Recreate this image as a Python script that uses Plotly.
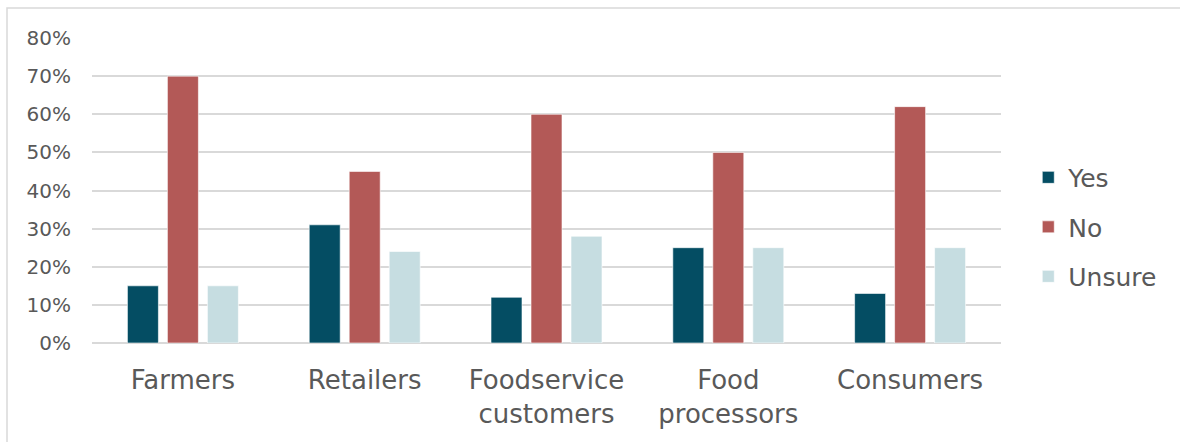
import plotly.graph_objects as go

categories = ["Farmers", "Retailers", "Foodservice<br>customers", "Food<br>processors", "Consumers"]
yes_vals = [0.15, 0.31, 0.12, 0.25, 0.13]
no_vals = [0.70, 0.45, 0.60, 0.50, 0.62]
unsure_vals = [0.15, 0.24, 0.28, 0.25, 0.25]
tick_vals = [0, 0.1, 0.2, 0.3, 0.4, 0.5, 0.6, 0.7, 0.8]
tick_text = ["0%", "10%", "20%", "30%", "40%", "50%", "60%", "70%", "80%"]

W, H = 1180, 442
L, R, T, B = 92, 179, 38, 99
FONT = "'DejaVu Sans', sans-serif"
TEXT = "#595959"

series = [("Yes", yes_vals, "#044d63"), ("No", no_vals, "#b35957"), ("Unsure", unsure_vals, "#c6dde1")]

fig = go.Figure()
for name, vals, col in series:
    fig.add_trace(go.Bar(
        x=categories, y=vals, name=name, legendgroup=name,
        marker=dict(color=col, line=dict(color="rgba(255,255,255,0.6)", width=1)),
    ))

pw = W - L - R
ph = H - T - B
# outer chart border, expressed in plot-area paper units
fig.add_shape(type="rect", xref="paper", yref="paper",
              x0=(7 - L) / pw, x1=(1200 - L) / pw,
              y0=(T + ph - 460) / ph, y1=(T + ph - 8) / ph,
              line=dict(color="#d9d9d9", width=1.5), fillcolor="rgba(0,0,0,0)", layer="below")

fig.update_layout(
    width=W, height=H,
    margin=dict(l=L, r=R, t=T, b=B, pad=0),
    paper_bgcolor="white", plot_bgcolor="white",
    barmode="group", bargap=0.34, bargroupgap=0.225,
    font=dict(family=FONT, color=TEXT, size=20),
    showlegend=True,
    legend=dict(x=1.03, xanchor="left", y=0.38, yanchor="middle",
                font=dict(size=25, color=TEXT), itemwidth=30, tracegroupgap=14,
                bgcolor="rgba(0,0,0,0)"),
    xaxis=dict(showgrid=False, showline=False, ticks="", tickfont=dict(size=26, color=TEXT),
               ticklabelstandoff=19),
    yaxis=dict(range=[0, 0.8], tickvals=tick_vals, ticktext=tick_text, showgrid=True,
               gridcolor="#d9d9d9", gridwidth=1.5, zeroline=True, zerolinecolor="#d9d9d9",
               zerolinewidth=1.5, showline=False, ticks="", tickfont=dict(size=20, color=TEXT),
               ticklabelstandoff=20),
)

fig.write_html("out.html")
